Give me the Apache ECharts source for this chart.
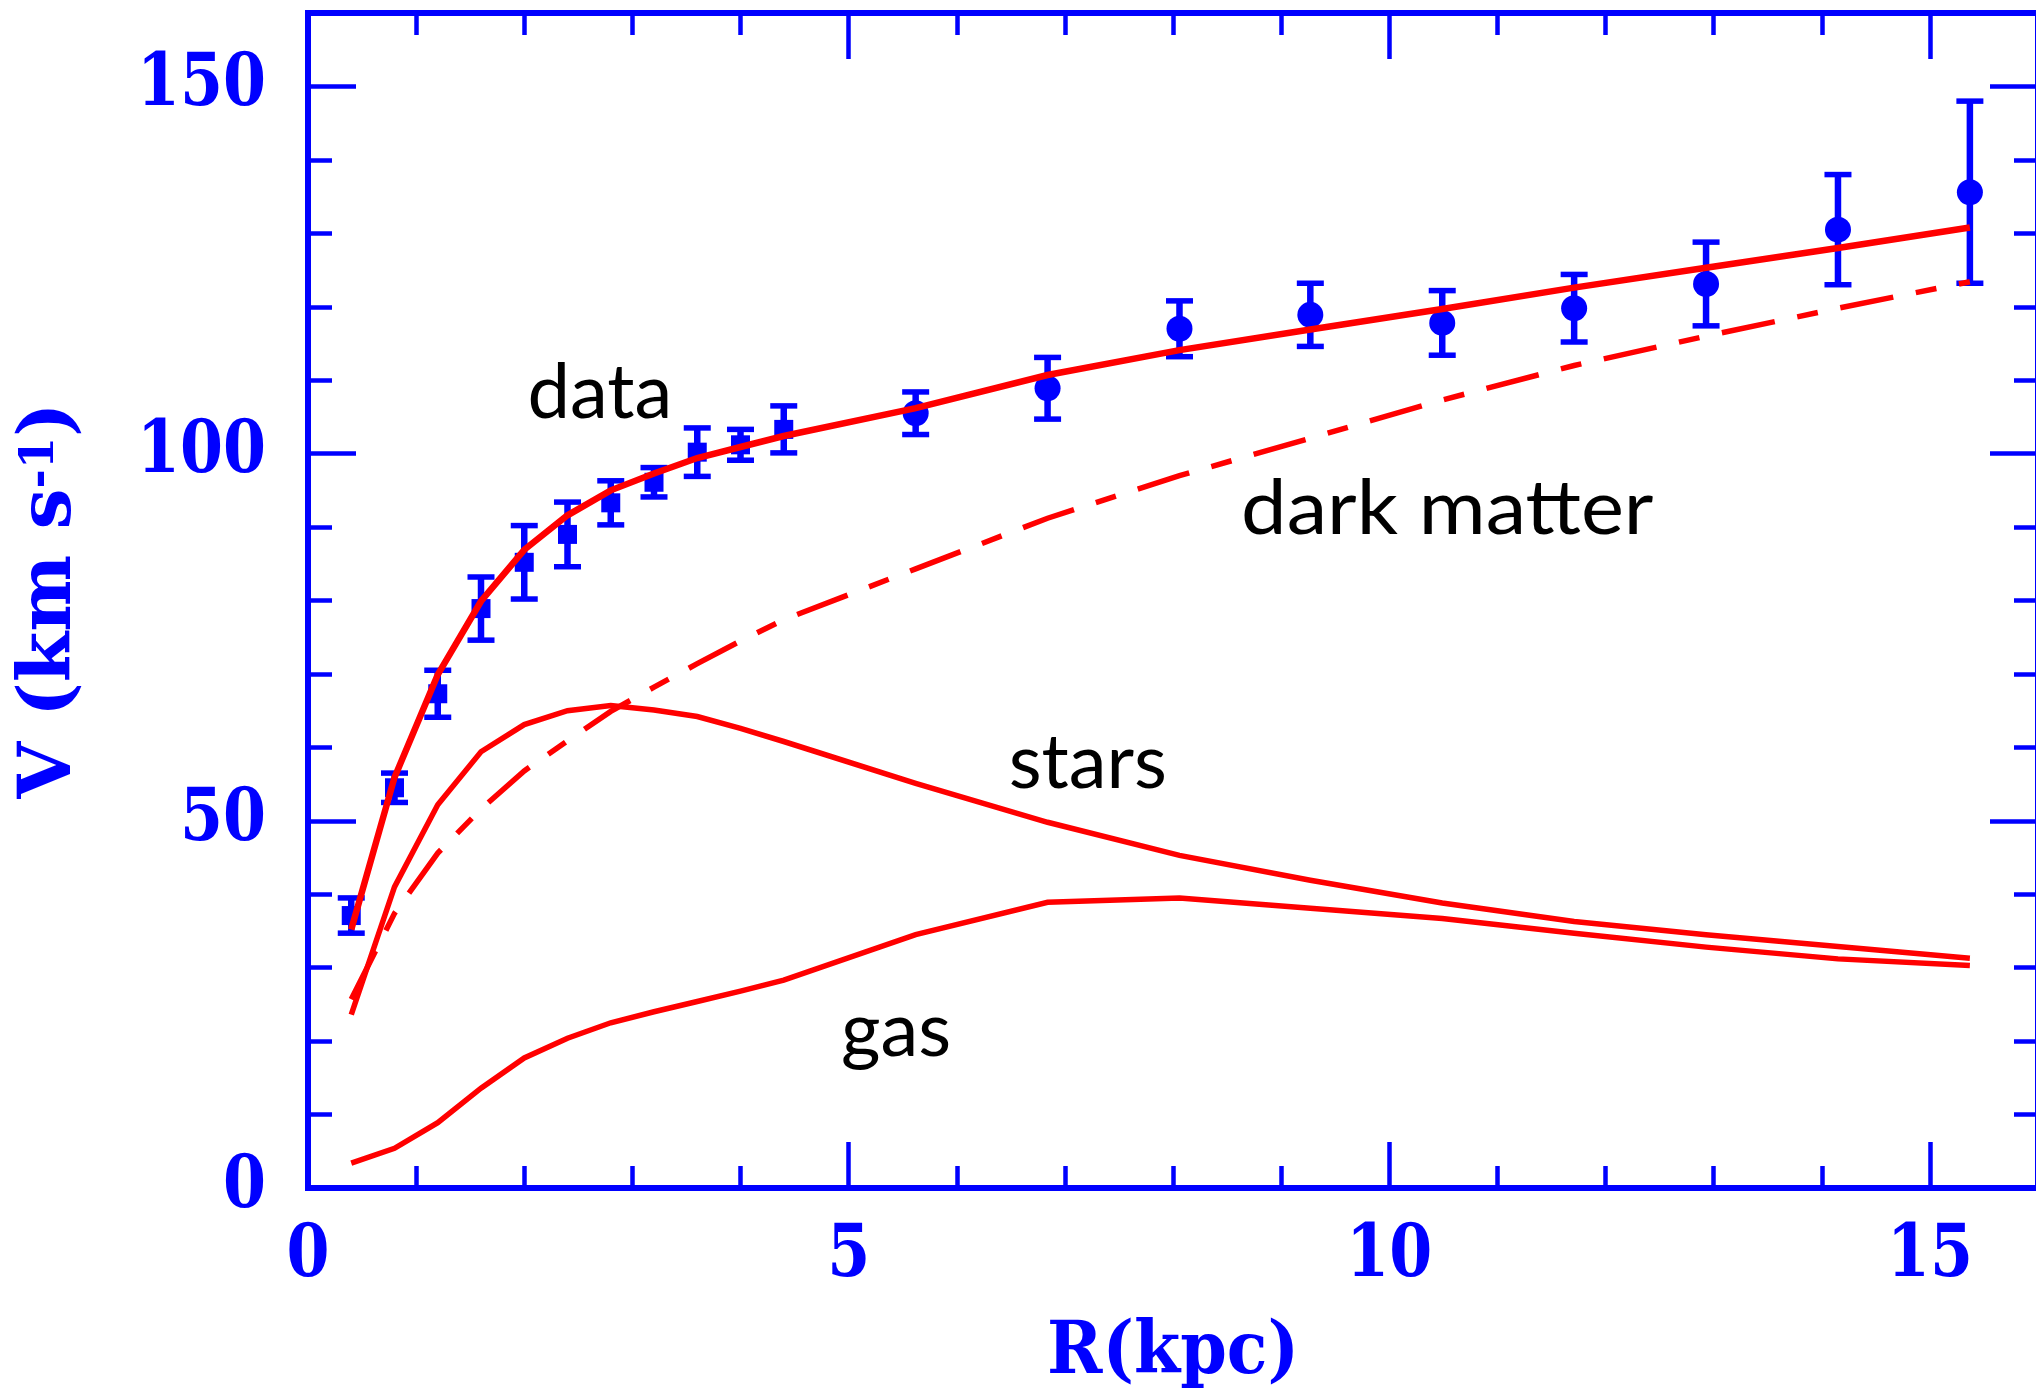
<!DOCTYPE html>
<html>
<head>
<meta charset="utf-8">
<script src="https://cdn.jsdelivr.net/npm/echarts@6/dist/echarts.min.js"></script>
<style>
  html, body { margin: 0; padding: 0; background: #fff; }
  #chart { width: 2036px; height: 1397px; }
</style>
</head>
<body>
<div id="chart"></div>
<script>
// Observed rotation curve: inner (square) and outer (circle) points
const innerR   = [0.4, 0.8, 1.2, 1.6, 2.0, 2.4, 2.8, 3.2, 3.6, 4.0, 4.4];
const innerV   = [37.1, 54.5, 67.3, 78.9, 85.2, 89.0, 93.3, 96.1, 100.2, 101.2, 103.3];
const innerErr = [2.4, 2.0, 3.2, 4.3, 5.0, 4.4, 3.0, 2.0, 3.3, 2.1, 3.2];
const outerR   = [5.62, 6.84, 8.06, 9.27, 10.49, 11.71, 12.93, 14.15, 15.37];
const outerV   = [105.5, 108.9, 117.0, 118.9, 117.8, 119.8, 123.1, 130.5, 135.6];
const outerErr = [2.9, 4.2, 3.8, 4.3, 4.4, 4.6, 5.7, 7.5, 12.4];

// Mass model evaluated at the same radii
const modelR = [0.4, 0.8, 1.2, 1.6, 2.0, 2.4, 2.8, 3.2, 3.6, 4.0, 4.4,
                5.62, 6.84, 8.06, 9.27, 10.49, 11.71, 12.93, 14.15, 15.37];
const totalV = [35.2, 55.9, 69.9, 79.9, 86.9, 91.6, 95.0, 97.3, 99.4, 100.9, 102.4,
                106.2, 110.7, 114.1, 116.9, 119.7, 122.6, 125.3, 128.0, 130.8];
const darkV  = [25.7, 37.4, 45.6, 51.6, 56.8, 60.9, 64.9, 68.2, 71.4, 74.5, 77.4,
                84.3, 91.2, 97.0, 102.1, 107.3, 112.0, 116.0, 119.8, 123.4];
const starsV = [23.6, 41.0, 52.2, 59.4, 63.1, 65.0, 65.7, 65.1, 64.2, 62.6, 60.8,
                55.1, 49.8, 45.3, 41.9, 38.8, 36.3, 34.5, 32.9, 31.3];
const gasV   = [3.4, 5.4, 8.9, 13.6, 17.7, 20.4, 22.5, 24.0, 25.4, 26.8, 28.3,
                34.5, 38.9, 39.5, 38.1, 36.7, 34.7, 32.8, 31.2, 30.3];

// Tick labels
const xTickLabels = [0, 5, 10, 15];
const yTickLabels = [0, 50, 100, 150];

// Curve annotations: [text, R at left edge, V at text middle, horizontal stretch]
const annotations = [
  ['data',        2.03, 108.2, 1.0],
  ['dark matter', 8.63, 92.4, 1.07],
  ['stars',       6.48, 57.8, 1.0],
  ['gas',         4.93, 21.3, 1.0]
];

const BLUE = '#0000ff';
const RED = '#ff0000';
const SERIF = '"DejaVu Serif", "Liberation Serif", serif';
const LABEL_SIZE = 72;

const pairs = (xs, ys) => xs.map((x, i) => [x, ys[i]]);
const triples = (xs, ys, es) => xs.map((x, i) => [x, ys[i], es[i]]);

// Text measurement, used to condense the serif face to the plot's character pitch
const measureCtx = document.createElement('canvas').getContext('2d');
function textWidth(text, size) {
  measureCtx.font = 'bold ' + size + 'px ' + SERIF;
  return measureCtx.measureText(text).width;
}

function makeAxis(kind, position, interval, tickLen, showLine) {
  return {
    type: 'value',
    position: position,
    min: 0,
    max: kind === 'x' ? 16 : 160,
    interval: interval,
    axisLine: { show: showLine, onZero: false, lineStyle: { color: BLUE, width: 6, cap: 'square' } },
    axisTick: { show: true, inside: true, length: tickLen, lineStyle: { color: BLUE, width: 4.5 } },
    axisLabel: { show: false },
    splitLine: { show: false },
    minorTick: { show: false }
  };
}

const chart = echarts.init(document.getElementById('chart'), null, { renderer: 'canvas' });

function modelLine(name, values, width, dashed) {
  return {
    name: name,
    type: 'line',
    data: pairs(modelR, values),
    showSymbol: false,
    symbol: 'none',
    smooth: false,
    z: 10,
    silent: true,
    lineStyle: {
      color: RED,
      width: width,
      type: dashed ? [54, 23, 21, 23] : 'solid',
      cap: 'butt',
      join: 'miter'
    }
  };
}

function errorBars(name, data) {
  return {
    name: name,
    type: 'custom',
    data: data,
    encode: { x: 0, y: 1 },
    z: 4,
    silent: true,
    renderItem: function (params, api) {
      const x = api.value(0), y = api.value(1), e = api.value(2);
      const top = api.coord([x, y + e]);
      const bot = api.coord([x, y - e]);
      const hw = 13.5;
      const st = { stroke: BLUE, lineWidth: 6.5 };
      const cs = { stroke: BLUE, lineWidth: 5.5 };
      return {
        type: 'group',
        children: [
          { type: 'line', shape: { x1: top[0], y1: top[1], x2: bot[0], y2: bot[1] }, style: st },
          { type: 'line', shape: { x1: top[0] - hw, y1: top[1], x2: top[0] + hw, y2: top[1] }, style: cs },
          { type: 'line', shape: { x1: bot[0] - hw, y1: bot[1], x2: bot[0] + hw, y2: bot[1] }, style: cs }
        ]
      };
    }
  };
}

chart.setOption({
  animation: false,
  backgroundColor: '#ffffff',
  grid: { left: 308, top: 13, width: 1730, height: 1175, outerBoundsMode: 'none', containLabel: false },
  xAxis: [
    makeAxis('x', 'bottom', 1, 22, true),
    makeAxis('x', 'bottom', 5, 46, false),
    makeAxis('x', 'top', 1, 22, true),
    makeAxis('x', 'top', 5, 46, false)
  ],
  yAxis: [
    makeAxis('y', 'left', 10, 24, true),
    makeAxis('y', 'left', 50, 48, false),
    makeAxis('y', 'right', 10, 24, true),
    makeAxis('y', 'right', 50, 48, false)
  ],
  series: [
    errorBars('inner errors', triples(innerR, innerV, innerErr)),
    errorBars('outer errors', triples(outerR, outerV, outerErr)),
    {
      name: 'inner data', type: 'scatter', data: pairs(innerR, innerV),
      symbol: 'rect', symbolSize: 19, z: 5, silent: true,
      itemStyle: { color: BLUE, opacity: 1 }
    },
    {
      name: 'outer data', type: 'scatter', data: pairs(outerR, outerV),
      symbol: 'circle', symbolSize: 26, z: 5, silent: true,
      itemStyle: { color: BLUE, opacity: 1 }
    },
    modelLine('total', totalV, 6.5, false),
    modelLine('dark matter', darkV, 5.5, true),
    modelLine('stars', starsV, 5.5, false),
    modelLine('gas', gasV, 5.5, false)
  ]
});

// Tick labels, axis titles and curve annotations
function serifText(text, x, y, size, sx, align, vAlign) {
  return {
    type: 'text', x: x, y: y, scaleX: sx, silent: true, z: 20,
    style: {
      text: text, fill: BLUE,
      font: 'bold ' + size + 'px ' + SERIF,
      align: align, verticalAlign: vAlign,
      textAlign: align, textVerticalAlign: vAlign
    }
  };
}

const px = v => chart.convertToPixel({ xAxisIndex: 0 }, v);
const py = v => chart.convertToPixel({ yAxisIndex: 0 }, v);

// digits are set at a 43px pitch
const digitSX = 43 / (textWidth('0123456789', LABEL_SIZE) / 10);

const elements = [];
xTickLabels.forEach(v => elements.push(serifText(String(v), px(v), 1257, LABEL_SIZE, digitSX, 'center', 'middle')));
yTickLabels.forEach(v => elements.push(serifText(String(v), 266, py(v), LABEL_SIZE, digitSX, 'right', 'middle')));

// x-axis title
const xTitle = 'R(kpc)';
const xTitleSX = 252 / textWidth(xTitle, LABEL_SIZE);
elements.push(serifText(xTitle, (px(0) + px(16)) / 2, 1354, LABEL_SIZE, xTitleSX, 'center', 'middle'));

// y-axis title, rotated; the exponent is drawn smaller and raised
const SUP_SIZE = 46;
const yMid = (py(0) + py(160)) / 2;
const partA = 'V (km s', partB = '-1', partC = ')';
const wA = textWidth(partA, LABEL_SIZE), wB = textWidth(partB, SUP_SIZE), wC = textWidth(partC, LABEL_SIZE);
const yTitleSX = 396 / (wA + wB + wC);
const startX = -(wA + wB + wC) * yTitleSX / 2;
const titleChild = (text, lx, ly, size) => ({
  type: 'text', x: lx, y: ly, scaleX: yTitleSX, silent: true,
  style: {
    text: text, fill: BLUE, font: 'bold ' + size + 'px ' + SERIF,
    align: 'left', verticalAlign: 'middle', textAlign: 'left', textVerticalAlign: 'middle'
  }
});
elements.push({
  type: 'group', x: 51, y: yMid, rotation: Math.PI / 2, silent: true, z: 20,
  children: [
    titleChild(partA, startX, 0, LABEL_SIZE),
    titleChild(partB, startX + wA * yTitleSX, -10, SUP_SIZE),
    titleChild(partC, startX + (wA + wB) * yTitleSX, 0, LABEL_SIZE)
  ]
});

annotations.forEach(a => {
  elements.push({
    type: 'text', x: px(a[1]), y: py(a[2]), scaleX: a[3], silent: true, z: 20,
    style: {
      text: a[0], fill: '#000000', font: '76px Lato, "Open Sans", sans-serif',
      align: 'left', verticalAlign: 'middle', textAlign: 'left', textVerticalAlign: 'middle'
    }
  });
});

chart.setOption({ graphic: { elements: elements } });
</script>
</body>
</html>
